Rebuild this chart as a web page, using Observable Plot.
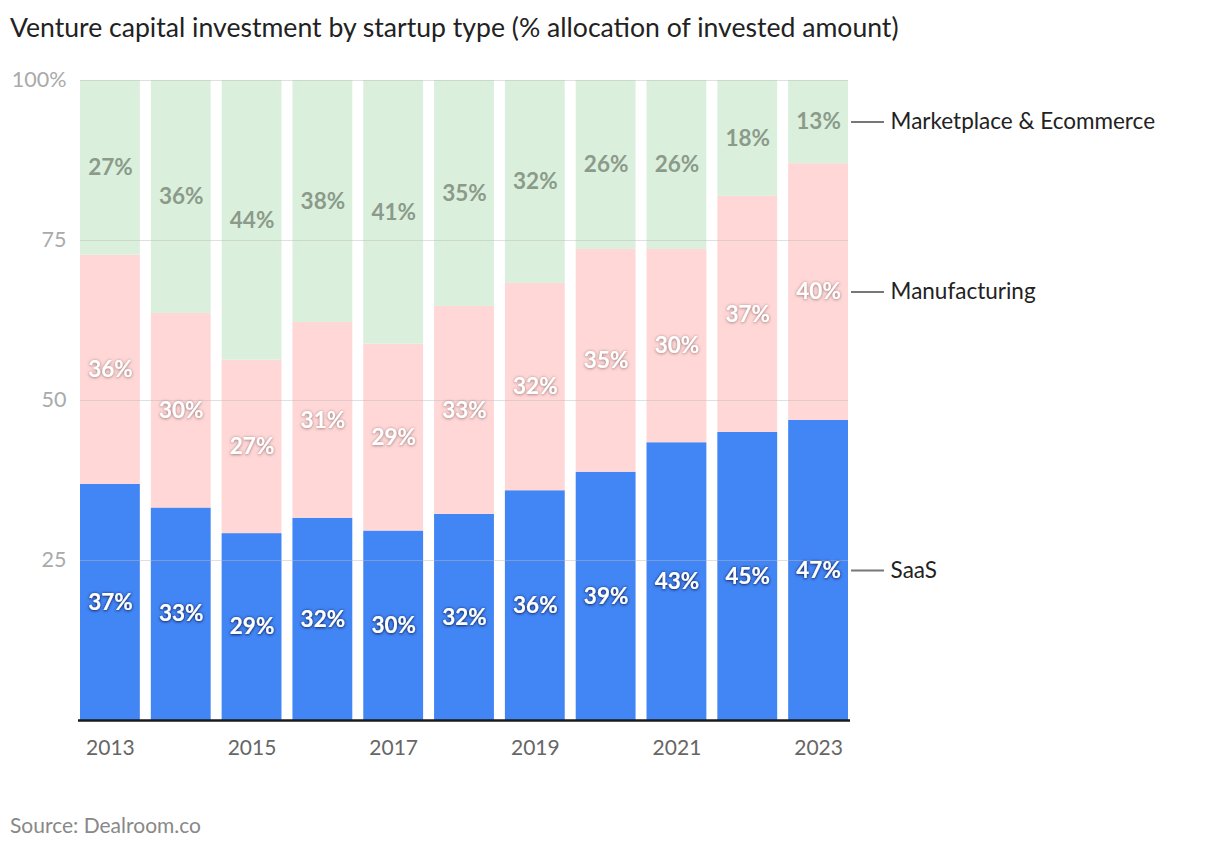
<!DOCTYPE html>
<html>
<head>
<meta charset="utf-8">
<script src="https://cdn.jsdelivr.net/npm/d3@7"></script>
<script src="https://cdn.jsdelivr.net/npm/@observablehq/plot@0.6"></script>
<style>
  body { margin: 0; background: #fff; font-family: Lato, "Noto Sans", sans-serif; }
  #title { height: 56px; line-height: 54px; padding-left: 10px; font-size: 26.6px; color: #222; white-space: nowrap; }
  #chart { height: 704px; }
  #source { margin-top: 54px; padding-left: 10px; font-size: 21px; color: #888; line-height: 22px; }
</style>
</head>
<body>
<div id="title">Venture capital investment by startup type (% allocation of invested amount)</div>
<div id="chart"></div>
<div id="source">Source: Dealroom.co</div>
<script>
const years = [2013, 2014, 2015, 2016, 2017, 2018, 2019, 2020, 2021, 2022, 2023];
const types = ["SaaS", "Manufacturing", "Marketplace & Ecommerce"];
const saas = [36.9, 33.2, 29.2, 31.6, 29.6, 32.2, 35.9, 38.8, 43.4, 45.0, 46.9];
const manufacturing = [35.8, 30.4, 27.1, 30.6, 29.2, 32.5, 32.4, 34.8, 30.2, 36.9, 40.1];
const marketplace = [27.3, 36.4, 43.7, 37.8, 41.2, 35.3, 31.7, 26.4, 26.4, 18.1, 13.0];
const yTicks = [25, 50, 75, 100];
const xTickYears = [2013, 2015, 2017, 2019, 2021, 2023];
const colors = {"SaaS": "#4285f4", "Manufacturing": "#ffd7d7", "Marketplace & Ecommerce": "#daf0dd"};

const series = {"SaaS": saas, "Manufacturing": manufacturing, "Marketplace & Ecommerce": marketplace};
const rows = [];
years.forEach((year, i) => {
  let base = 0;
  for (const t of types) {
    const v = series[t][i];
    rows.push({year, type: t, value: v, y1: base, y2: base + v, mid: base + v / 2});
    base += v;
  }
});
const last = rows.filter(d => d.year === 2023);
const labelOf = d => Math.round(d.value) + "%";

const chart = Plot.plot({
  width: 1220,
  height: 704,
  marginTop: 24,
  marginBottom: 40,
  marginLeft: 80,
  marginRight: 372,
  style: {fontFamily: "Lato, 'Noto Sans', sans-serif", fontSize: "18px", background: "#fff"},
  x: {type: "band", domain: years, paddingInner: 0.155, paddingOuter: 0, round: false, axis: null},
  y: {domain: [0, 100], axis: null},
  marks: [
    Plot.rectY(rows, {x: "year", y1: "y1", y2: "y2", fill: d => colors[d.type]}),
    Plot.gridY(yTicks, {stroke: "#bbb", strokeOpacity: 0.45}),
    Plot.ruleY([0], {stroke: "#1a1a1a", strokeWidth: 2.5, insetLeft: -2, insetRight: -2}),
    Plot.axisY(yTicks, {tickSize: 0, tickPadding: 14, fill: "#aaa", fontSize: 21.5, tickFormat: d => d === 100 ? "100%" : d, label: null}),
    Plot.axisX(xTickYears, {tickSize: 0, tickPadding: 20, fill: "#666", fontSize: 21, tickFormat: d => String(d), label: null}),
    Plot.text(rows.filter(d => d.type === "SaaS"), {x: "year", y: "mid", text: labelOf, fill: "#fff", fontWeight: "bold", fontSize: 22.5, className: "lbl-saas"}),
    Plot.text(rows.filter(d => d.type === "Manufacturing"), {x: "year", y: "mid", text: labelOf, fill: "#fff", fontWeight: "bold", fontSize: 22.5, className: "lbl-man"}),
    Plot.text(rows.filter(d => d.type === "Marketplace & Ecommerce"), {x: "year", y: "mid", text: labelOf, fill: "#8c9a8a", fontWeight: "bold", fontSize: 22.5}),
    Plot.ruleY(last, {y: "mid", stroke: "#777", strokeWidth: 2, insetLeft: 771, insetRight: -36}),
    Plot.text(last, {x: "year", y: "mid", text: "type", dx: 72, textAnchor: "start", fill: "#222", fontSize: 22.5})
  ]
});

const svg = d3.select(chart);
const defs = svg.insert("defs", ":first-child");
defs.append("filter").attr("id", "shDark").attr("x", "-20%").attr("y", "-30%").attr("width", "140%").attr("height", "160%")
  .append("feDropShadow").attr("dx", 0).attr("dy", 0.5).attr("stdDeviation", 1.5).attr("flood-color", "#061030").attr("flood-opacity", 1);
defs.append("filter").attr("id", "shMan").attr("x", "-20%").attr("y", "-30%").attr("width", "140%").attr("height", "160%")
  .append("feDropShadow").attr("dx", 0).attr("dy", 0.5).attr("stdDeviation", 1.5).attr("flood-color", "#8a6060").attr("flood-opacity", 0.9);
svg.selectAll("g.lbl-saas").attr("filter", "url(#shDark)");
svg.selectAll("g.lbl-man").attr("filter", "url(#shMan)");

document.getElementById("chart").appendChild(chart);
</script>
</body>
</html>
